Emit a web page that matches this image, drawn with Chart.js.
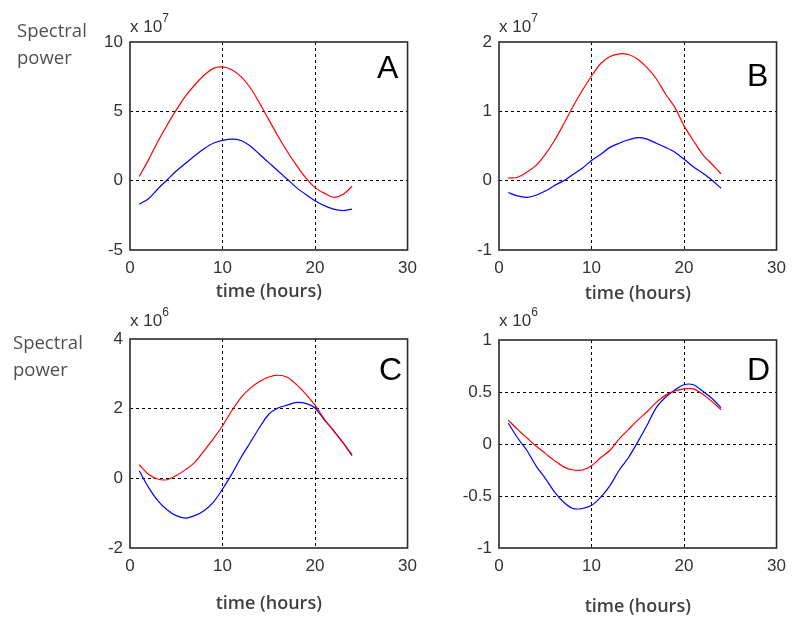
<!DOCTYPE html>
<html>
<head>
<meta charset="utf-8">
<script src="https://cdn.jsdelivr.net/npm/chart.js@4.4.1/dist/chart.umd.min.js"></script>
<style>
    body { margin: 0; background: #fff; }
    #wrap { position: relative; width: 794px; height: 622px; overflow: hidden; }
    canvas { position: absolute; }
    .ylab { position: absolute; font-family: "Open Sans", sans-serif; font-size: 18.5px; color: #505050; line-height: 27px; }
    .expo { position: absolute; font-family: "Liberation Sans", Arial, sans-serif; font-size: 17px; color: #333; }
    .expo sup { font-size: 12px; position: relative; top: -3px; }
    .letter { position: absolute; font-family: "Liberation Sans", Arial, sans-serif; font-size: 32px; color: #000; line-height: 32px; }
</style>
</head>
<body>
<div id="wrap">
    <canvas id="chartA" width="345" height="310" style="left:80px;top:0px"></canvas>
    <canvas id="chartB" width="345" height="310" style="left:449px;top:0px"></canvas>
    <canvas id="chartC" width="345" height="322" style="left:80px;top:300px"></canvas>
    <canvas id="chartD" width="345" height="322" style="left:449px;top:300px"></canvas>

    <div class="ylab" style="left:17px;top:16px">Spectral<br>power</div>
    <div class="ylab" style="left:13px;top:328px">Spectral<br>power</div>

    <div class="expo" style="left:130px;top:14px">x 10<sup>7</sup></div>
    <div class="expo" style="left:499px;top:14px">x 10<sup>7</sup></div>
    <div class="expo" style="left:130px;top:308px">x 10<sup>6</sup></div>
    <div class="expo" style="left:499px;top:308px">x 10<sup>6</sup></div>

    <div class="letter" style="left:377px;top:51px">A</div>
    <div class="letter" style="left:747px;top:59px">B</div>
    <div class="letter" style="left:379px;top:353px">C</div>
    <div class="letter" style="left:747px;top:353px">D</div>
</div>

<script>
// Hours sampled along the x axis
const hours = [1, 2, 3, 4, 5, 6, 7, 8, 9, 10, 11, 12, 13, 14, 15, 16, 17, 18, 19, 20, 21, 22, 23, 24];
const xTicks = [0, 10, 20, 30];

// Panel A (x 10^7)
const redA = [0.3, 1.5, 2.8, 4.0, 5.1, 6.1, 6.9, 7.6, 8.1, 8.2, 8.0, 7.5, 6.7, 5.6, 4.4, 3.2, 2.1, 1.1, 0.2, -0.5, -0.9, -1.2, -1.0, -0.4];
const blueA = [-1.7, -1.3, -0.6, 0.05, 0.7, 1.25, 1.8, 2.3, 2.7, 2.9, 3.0, 2.9, 2.5, 1.9, 1.3, 0.7, 0.1, -0.5, -1.0, -1.45, -1.8, -2.05, -2.15, -2.05];
const yTicksA = [-5, 0, 5, 10];

// Panel B (x 10^7)
const redB = [0.04, 0.05, 0.12, 0.22, 0.38, 0.58, 0.82, 1.07, 1.3, 1.51, 1.69, 1.79, 1.83, 1.82, 1.75, 1.63, 1.47, 1.25, 1.06, 0.79, 0.58, 0.38, 0.24, 0.1];
const blueB = [-0.17, -0.22, -0.24, -0.21, -0.15, -0.07, 0.0, 0.09, 0.18, 0.29, 0.38, 0.48, 0.54, 0.59, 0.62, 0.6, 0.54, 0.48, 0.41, 0.31, 0.2, 0.11, 0.01, -0.11];
const yTicksB = [-1, 0, 1, 2];

// Panel C (x 10^6)
const redC = [0.39, 0.12, -0.02, -0.04, 0.08, 0.25, 0.46, 0.79, 1.13, 1.51, 1.94, 2.32, 2.59, 2.78, 2.91, 2.96, 2.9, 2.69, 2.42, 2.1, 1.7, 1.37, 1.03, 0.68];
const blueC = [0.22, -0.26, -0.64, -0.9, -1.07, -1.14, -1.07, -0.93, -0.69, -0.31, 0.12, 0.6, 1.03, 1.46, 1.84, 2.02, 2.1, 2.18, 2.15, 2.02, 1.68, 1.37, 1.03, 0.65];
const yTicksC = [-2, 0, 2, 4];

// Panel D (x 10^6)
const redD = [0.23, 0.14, 0.06, -0.02, -0.09, -0.16, -0.22, -0.25, -0.25, -0.21, -0.13, -0.06, 0.05, 0.14, 0.23, 0.31, 0.4, 0.47, 0.51, 0.53, 0.53, 0.48, 0.41, 0.33];
const blueD = [0.2, 0.06, -0.06, -0.21, -0.33, -0.46, -0.56, -0.62, -0.62, -0.59, -0.51, -0.4, -0.25, -0.13, 0.02, 0.18, 0.35, 0.45, 0.52, 0.57, 0.57, 0.51, 0.44, 0.35];
const yTicksD = [-1, -0.5, 0, 0.5, 1];

// Box around the plot area
const frame = {
    id: 'frame',
    afterDraw(chart) {
        const a = chart.chartArea;
        const ctx = chart.ctx;
        ctx.save();
        ctx.strokeStyle = '#2a2a2a';
        ctx.lineWidth = 1.6;
        ctx.strokeRect(a.left, a.top, a.right - a.left, a.bottom - a.top);
        ctx.restore();
    }
};

function toPoints(ys) {
    return hours.map(function(h, i) { return { x: h, y: ys[i] }; });
}

function innerGrid(ticks) {
    return function(c) {
        const v = c.tick.value;
        return (v === ticks[0] || v === ticks[ticks.length - 1]) ? 'rgba(0,0,0,0)' : '#000';
    };
}

function makePanel(id, red, blue, yTicks, pad, xHeight, titlePad) {
    const tickFont = { family: '"Liberation Sans", Arial, sans-serif', size: 17 };
    new Chart(document.getElementById(id), {
        type: 'line',
        data: {
            datasets: [
                { data: toPoints(red), borderColor: '#ff0000', borderWidth: 1.2, pointRadius: 0, tension: 0.3 },
                { data: toPoints(blue), borderColor: '#0000ff', borderWidth: 1.2, pointRadius: 0, tension: 0.3 }
            ]
        },
        options: {
            responsive: false,
            animation: false,
            layout: { padding: pad },
            plugins: { legend: { display: false }, tooltip: { enabled: false } },
            scales: {
                x: {
                    type: 'linear',
                    min: xTicks[0],
                    max: xTicks[xTicks.length - 1],
                    afterBuildTicks: function(s) { s.ticks = xTicks.map(function(v) { return { value: v }; }); },
                    afterFit: function(s) { s.height = xHeight; },
                    grid: { color: innerGrid(xTicks), drawTicks: false, lineWidth: 1 },
                    border: { display: false, dash: [3, 3] },
                    ticks: { padding: 8, color: '#333', font: tickFont, maxRotation: 0, callback: function(v) { return String(v); } },
                    title: {
                        display: true,
                        text: 'time (hours)',
                        color: '#404040',
                        font: { family: '"Open Sans", sans-serif', size: 18, weight: '600' },
                        padding: { top: 0, bottom: titlePad }
                    }
                },
                y: {
                    min: yTicks[0],
                    max: yTicks[yTicks.length - 1],
                    afterBuildTicks: function(s) { s.ticks = yTicks.map(function(v) { return { value: v }; }); },
                    afterFit: function(s) { s.width = 50; },
                    grid: { color: innerGrid(yTicks), drawTicks: false, lineWidth: 1 },
                    border: { display: false, dash: [3, 3] },
                    ticks: { padding: 7, color: '#333', font: tickFont, callback: function(v) { return String(v); } }
                }
            }
        },
        plugins: [frame]
    });
}

makePanel('chartA', redA, blueA, yTicksA, { top: 42, right: 13, left: 0, bottom: 0 }, 60, 7);
makePanel('chartB', redB, blueB, yTicksB, { top: 42, right: 12, left: 0, bottom: 0 }, 60, 5);
makePanel('chartC', redC, blueC, yTicksC, { top: 39, right: 13, left: 0, bottom: 0 }, 74, 7);
makePanel('chartD', redD, blueD, yTicksD, { top: 40, right: 12, left: 0, bottom: 0 }, 74, 4);
</script>
</body>
</html>
